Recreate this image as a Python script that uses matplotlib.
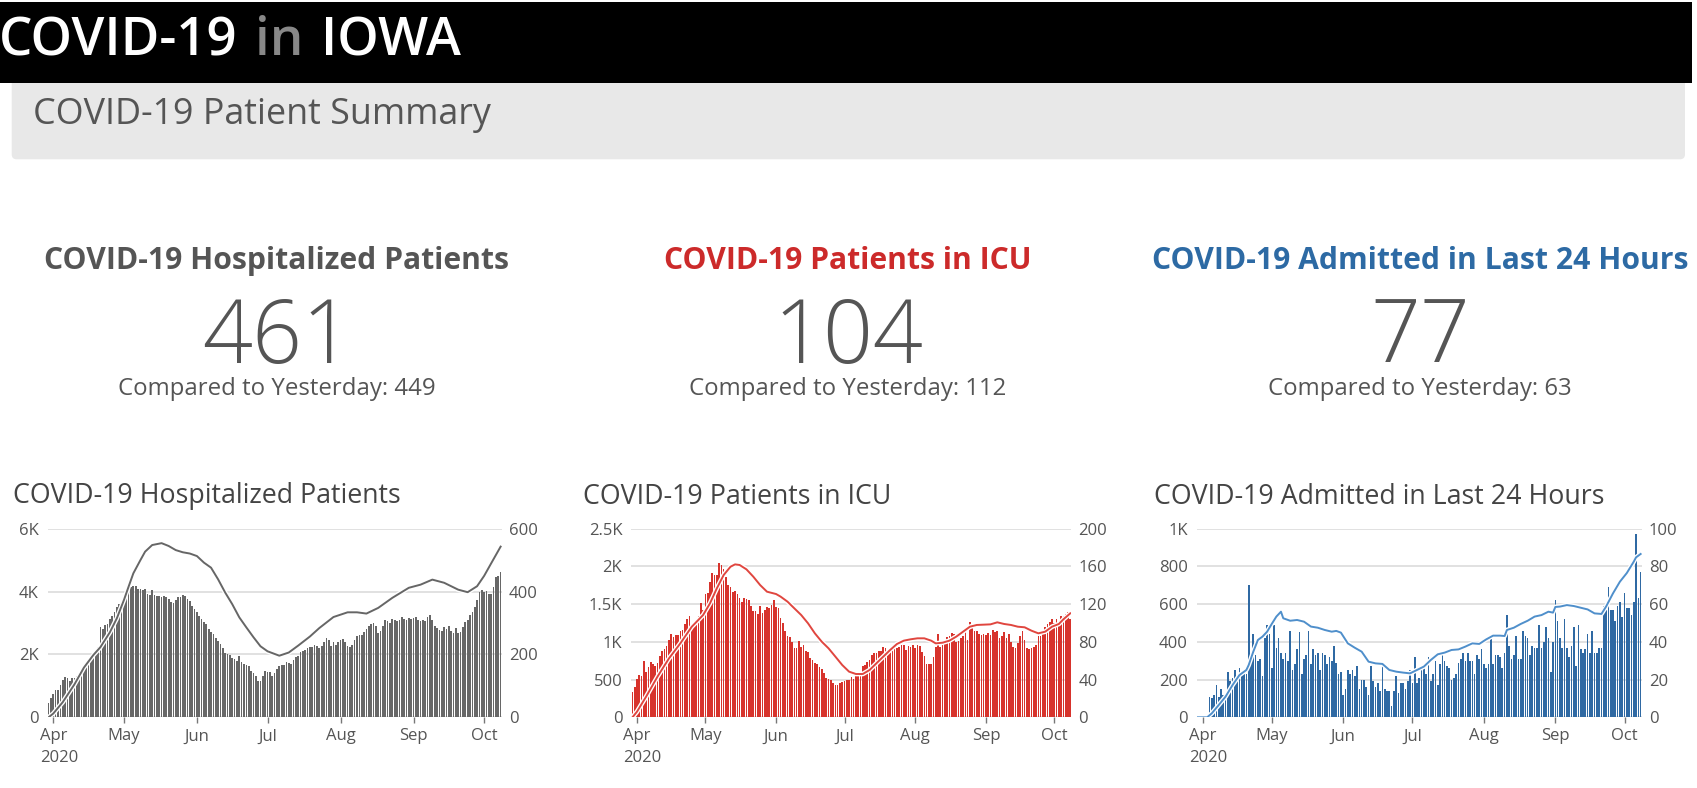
import matplotlib
matplotlib.use('Agg')
import matplotlib.pyplot as plt
import matplotlib.patheffects as pe
import matplotlib.transforms as mtransforms
from matplotlib.patches import Rectangle, FancyBboxPatch
import pandas as pd

W, H, DPI = 1697, 788, 100

# ---------------- data ----------------
day_start, day_end = '2020-03-30', '2020-10-08'

hosp_daily = [47, 62,
    74, 87, 87, 103, 119, 127, 124, 117, 124, 124, 131, 140, 150, 161, 172, 182, 193, 204, 214, 225,
    286, 280, 293, 296, 312, 323, 336, 350, 360, 371,
    385, 392, 398, 414, 419, 417, 408, 408, 405, 408, 392, 389, 406, 389, 387, 387, 382, 385, 382, 376,
    368, 364, 373, 382, 384, 389, 385, 376, 371, 353, 344,
    334, 323, 312, 302, 296, 280, 270, 264, 253, 243, 232, 221, 203, 200, 197, 189, 184, 179, 195, 175,
    168, 165, 163, 147, 140, 132, 117, 117, 132, 148,
    144, 143, 132, 140, 153, 164, 165, 167, 176, 174, 170, 183, 191, 196, 207, 210, 215, 220, 223, 223,
    230, 228, 220, 228, 238, 252, 245, 228, 239, 231, 240,
    245, 249, 238, 228, 223, 231, 247, 260, 263, 261, 270, 281, 289, 298, 300, 289, 268, 273, 291, 311,
    305, 300, 313, 311, 305, 309, 319, 313, 311, 316, 313,
    316, 319, 311, 305, 311, 305, 319, 327, 311, 289, 284, 277, 273, 287, 281, 289, 273, 268, 284, 268,
    270, 287, 302, 311, 327, 334, 350, 373, 400, 405,
    400, 403, 392, 392, 414, 445, 449, 461]

icu_daily = [27, 32,
    41, 45, 44, 60, 48, 53, 59, 57, 54, 58, 65, 70, 72, 76, 82, 88, 85, 87, 87, 91,
    93, 99, 104, 107, 98, 99, 102, 107, 121, 114,
    131, 132, 143, 153, 151, 151, 164, 161, 157, 149, 140, 138, 133, 134, 131, 126, 122, 126, 125, 124,
    118, 113, 113, 110, 118, 111, 114, 117, 116, 119, 124,
    117, 116, 105, 100, 91, 86, 85, 80, 73, 74, 81, 75, 77, 70, 69, 63, 61, 58, 57, 53,
    51, 47, 42, 41, 40, 36, 34, 34, 36, 37,
    39, 40, 40, 43, 41, 44, 45, 48, 54, 55, 59, 61, 66, 68, 68, 70, 70, 75, 74, 71,
    72, 76, 77, 73, 75, 77, 77, 71, 76, 75, 77,
    74, 77, 76, 69, 65, 57, 57, 57, 64, 75, 88, 75, 81, 78, 85, 86, 89, 88, 80, 81,
    84, 86, 93, 82, 101, 99, 91, 91, 88, 87, 88,
    87, 89, 87, 93, 90, 91, 84, 86, 90, 84, 88, 80, 75, 74, 79, 86, 91, 82, 73, 72,
    73, 75, 77, 86, 86, 90, 96, 99, 101, 104,
    100, 104, 101, 107, 107, 110, 112, 104]

admit_daily = [0, 0,
    0, 0, 0, 11, 10, 12, 17, 11, 15, 12, 11, 24, 19, 21, 25, 22, 26, 23, 23, 23,
    70, 32, 44, 33, 30, 31, 22, 42, 49, 44,
    26, 49, 37, 42, 34, 31, 34, 30, 46, 25, 28, 36, 45, 23, 31, 33, 46, 28, 36, 33,
    34, 25, 34, 33, 28, 32, 30, 38, 29, 23, 24,
    12, 15, 25, 23, 25, 22, 27, 15, 20, 20, 16, 12, 27, 19, 16, 18, 14, 28, 15, 14,
    14, 6, 14, 22, 13, 18, 18, 15, 19, 25,
    18, 32, 18, 21, 25, 27, 23, 32, 19, 23, 30, 17, 28, 33, 30, 27, 26, 20, 21, 23,
    29, 31, 34, 30, 34, 30, 30, 23, 33, 31, 36,
    28, 26, 28, 42, 28, 33, 33, 32, 26, 34, 54, 38, 31, 33, 43, 31, 31, 46, 43, 42,
    33, 38, 37, 37, 49, 37, 40, 48, 42, 24, 40,
    62, 51, 42, 37, 52, 37, 32, 38, 48, 27, 49, 36, 34, 36, 44, 34, 46, 34, 34, 37,
    37, 59, 57, 69, 57, 57, 51, 59, 61, 53,
    66, 58, 58, 54, 61, 97, 63, 77]

hosp_line_dates = ['03-30', '04-01', '04-05', '04-10', '04-14', '04-18', '04-21', '04-25', '04-28',
    '05-01', '05-03', '05-05', '05-08', '05-10', '05-13', '05-17', '05-20', '05-23', '05-26', '05-29',
    '06-01', '06-04', '06-07', '06-10', '06-13', '06-16', '06-19', '06-22', '06-25', '06-28',
    '07-01', '07-06', '07-10', '07-14', '07-19', '07-23', '07-29', '08-04', '08-08', '08-12',
    '08-17', '08-23', '08-30', '09-04', '09-09', '09-14', '09-20', '09-24', '09-28', '10-01',
    '10-04', '10-08']
hosp_line_vals = [0, 120, 480, 1050, 1580, 1980, 2230, 2700, 3150,
    3730, 4160, 4580, 5000, 5270, 5480, 5540, 5450, 5320, 5250, 5210,
    5130, 4920, 4760, 4390, 3970, 3600, 3180, 2860, 2550, 2260,
    2100, 1960, 2060, 2280, 2570, 2840, 3190, 3340, 3340, 3300,
    3480, 3800, 4120, 4220, 4380, 4280, 4060, 3980, 4170, 4500,
    4900, 5430]

icu_line_dates = ['03-30', '04-01', '04-05', '04-10', '04-15', '04-20', '04-25', '04-30',
    '05-03', '05-06', '05-09', '05-12', '05-14', '05-16', '05-19', '05-22', '05-25', '05-28',
    '06-01', '06-03', '06-06', '06-09', '06-12', '06-15', '06-18', '06-21', '06-24', '06-27', '06-30',
    '07-03', '07-06', '07-09', '07-12', '07-15', '07-18', '07-21', '07-24', '07-27', '07-30',
    '08-02', '08-05', '08-08', '08-10', '08-13', '08-16', '08-19', '08-22', '08-25', '08-28', '08-31',
    '09-03', '09-06', '09-09', '09-12', '09-15', '09-18', '09-21', '09-24', '09-27', '09-30',
    '10-03', '10-05', '10-08']
icu_line_vals = [0, 75, 274, 540, 780, 980, 1200, 1356,
    1510, 1709, 1886, 1996, 2027, 2019, 1961, 1864, 1753, 1665,
    1634, 1599, 1533, 1444, 1356, 1246, 1113, 1003, 914, 804, 693,
    605, 574, 574, 627, 716, 804, 892, 972, 1016, 1034,
    1047, 1047, 1016, 980, 989, 1016, 1069, 1135, 1201, 1224, 1228,
    1232, 1259, 1237, 1224, 1201, 1193, 1148, 1113, 1135, 1201,
    1237, 1299, 1378]

admit_line_dates = ['03-30', '04-03', '04-05', '04-08', '04-11', '04-14', '04-17', '04-20', '04-21',
    '04-23', '04-25', '04-27', '04-29', '05-01', '05-03', '05-05', '05-06', '05-09', '05-12',
    '05-15', '05-18', '05-21', '05-24', '05-27', '05-29', '05-31', '06-03', '06-06', '06-09',
    '06-12', '06-15', '06-18', '06-21', '06-24', '06-27', '06-30', '07-03', '07-06', '07-09',
    '07-12', '07-15', '07-18', '07-21', '07-24', '07-27', '07-30', '08-02', '08-05', '08-08',
    '08-10', '08-11', '08-14', '08-17', '08-20', '08-23', '08-26', '08-29', '08-31', '09-01',
    '09-03', '09-06', '09-09', '09-12', '09-15', '09-18', '09-21', '09-23', '09-26', '09-29',
    '10-02', '10-05', '10-06', '10-08']
admit_line_vals = [0, 0, 21, 65, 110, 171, 224, 251, 277,
    348, 410, 428, 454, 495, 534, 560, 525, 512, 516,
    507, 481, 475, 463, 454, 458, 449, 392, 369, 348,
    295, 286, 283, 251, 242, 237, 233, 251, 269, 304,
    334, 343, 357, 360, 375, 392, 389, 413, 433, 433,
    431, 463, 475, 495, 512, 534, 542, 560, 555, 585,
    587, 595, 590, 581, 572, 551, 548, 587, 657, 719,
    765, 825, 848, 866]

kpi_titles = ['COVID-19 Hospitalized Patients', 'COVID-19 Patients in ICU',
              'COVID-19 Admitted in Last 24 Hours']
kpi_values = [461, 104, 77]
kpi_yesterday = [449, 112, 63]

month_labels = ['Apr', 'May', 'Jun', 'Jul', 'Aug', 'Sep', 'Oct']
year_label = '2020'

hosp_left_ticks = [0, 2000, 4000, 6000]
hosp_left_labels = ['0', '2K', '4K', '6K']
hosp_right_ticks = [0, 200, 400, 600]
icu_left_ticks = [0, 500, 1000, 1500, 2000, 2500]
icu_left_labels = ['0', '500', '1K', '1.5K', '2K', '2.5K']
icu_right_ticks = [0, 40, 80, 120, 160, 200]
admit_left_ticks = [0, 200, 400, 600, 800, 1000]
admit_left_labels = ['0', '200', '400', '600', '800', '1K']
admit_right_ticks = [0, 20, 40, 60, 80, 100]

# ---------------- figure ----------------
FONT = 'Open Sans'
plt.rcParams['font.family'] = [FONT, 'DejaVu Sans']
fig = plt.figure(figsize=(W / DPI, H / DPI), dpi=DPI)
fig.patch.set_facecolor('white')


def fx(x):
    return x / W


def fy(y):
    return 1 - y / H


ident = mtransforms.IdentityTransform()
panel = FancyBboxPatch((11.7, H - 159.3), 1685 - 11.7, 159.3 - 70,
                       boxstyle='round,pad=0,rounding_size=5', transform=ident,
                       facecolor='#e8e8e8', edgecolor='none', zorder=1)
fig.add_artist(panel)
fig.add_artist(Rectangle((0, H - 83.2), 1692, 81.5, transform=ident,
                         facecolor='black', edgecolor='none', zorder=2))

hdr_kw = dict(fontsize=38, fontweight='semibold', va='baseline', ha='left', zorder=3)
fig.text(fx(-1), fy(55), 'COVID-19', color='white', **hdr_kw)
fig.text(fx(255), fy(55), 'in', color='#888888', **hdr_kw)
fig.text(fx(320.5), fy(55), 'IOWA', color='white', **hdr_kw)

fig.text(fx(33), fy(124), 'COVID-19 Patient Summary', fontsize=25.8, color='#555555',
         va='baseline', ha='left', zorder=3)

col_centers = [277, 848, 1420]
kpi_colors = ['#555555', '#cc2a2a', '#2d6aa4']
for cx, t, c, v, yv in zip(col_centers, kpi_titles, kpi_colors, kpi_values, kpi_yesterday):
    fig.text(fx(cx), fy(269), t, fontsize=21.7, fontweight='bold', color=c,
             ha='center', va='baseline')
    fig.text(fx(cx), fy(362.5), str(v), fontsize=63, fontweight='light', color='#555555',
             ha='center', va='baseline')
    fig.text(fx(cx), fy(395), f'Compared to Yesterday: {yv}', fontsize=17.3,
             color='#555555', ha='center', va='baseline')

dates = pd.date_range(day_start, day_end, freq='D')
month_ticks = pd.date_range('2020-04-01', '2020-10-01', freq='MS')
x_lo = pd.Timestamp(day_start) - pd.Timedelta(hours=11)
x_hi = pd.Timestamp(day_end) + pd.Timedelta(hours=12)

charts = [
    dict(x0=47.5, x1=501.8, title='COVID-19 Hospitalized Patients', tx=13,
         bars=hosp_daily, ld=hosp_line_dates, lv=hosp_line_vals,
         lt=hosp_left_ticks, ll=hosp_left_labels, rt=hosp_right_ticks,
         bc='#676767', lc='#666666'),
    dict(x0=631.4, x1=1071.4, title='COVID-19 Patients in ICU', tx=583,
         bars=icu_daily, ld=icu_line_dates, lv=icu_line_vals,
         lt=icu_left_ticks, ll=icu_left_labels, rt=icu_right_ticks,
         bc='#d7332c', lc='#e0463f'),
    dict(x0=1196.9, x1=1641.8, title='COVID-19 Admitted in Last 24 Hours', tx=1153.5,
         bars=admit_daily, ld=admit_line_dates, lv=admit_line_vals,
         lt=admit_left_ticks, ll=admit_left_labels, rt=admit_right_ticks,
         bc='#2f69a3', lc='#4f8fcb'),
]

Y_TOP, Y_BOT = 528.7, 717.3
TICK_FS = 12
for ch in charts:
    fig.text(fx(ch['tx']), fy(503.5), ch['title'], fontsize=19.3, color='#444444',
             ha='left', va='baseline')
    axb = fig.add_axes([fx(ch['x0']), fy(Y_BOT), (ch['x1'] - ch['x0']) / W, (Y_BOT - Y_TOP) / H])
    axb.set_facecolor('none')
    axb.bar(dates, ch['bars'], width=0.72, color=ch['bc'], linewidth=0, zorder=2)
    axb.set_ylim(ch['rt'][0], ch['rt'][-1])
    axb.set_yticks(ch['rt'])
    axb.set_yticklabels([str(t) for t in ch['rt']])
    axb.grid(axis='y', color='#d9d9d9', linewidth=1.1, zorder=0)
    axb.set_axisbelow(True)
    axb.set_xlim(x_lo, x_hi)
    axb.set_xticks(month_ticks)
    axb.set_xticklabels(month_labels)
    axb.tick_params(axis='x', length=4, width=1, color='#777777', pad=4,
                    labelsize=TICK_FS, labelcolor='#555555')
    for s in axb.spines.values():
        s.set_visible(False)

    axl = axb.twinx()
    axl.set_facecolor('none')
    ldates = pd.to_datetime(['2020-' + d for d in ch['ld']])
    axl.plot(ldates, ch['lv'], color=ch['lc'], linewidth=1.4, solid_joinstyle='round',
             path_effects=[pe.Stroke(linewidth=3.4, foreground='white'), pe.Normal()])
    axl.set_ylim(ch['lt'][0], ch['lt'][-1])
    axl.set_yticks(ch['lt'])
    axl.set_yticklabels(ch['ll'])
    axl.set_xlim(x_lo, x_hi)
    for s in axl.spines.values():
        s.set_visible(False)

    # bars' axis on the right, line's axis on the left
    axb.yaxis.tick_right()
    axl.yaxis.tick_left()
    axb.tick_params(axis='y', which='both', left=False, labelleft=False, right=False,
                    labelright=True, length=0, pad=5, labelsize=TICK_FS, labelcolor='#555555')
    axl.tick_params(axis='y', which='both', right=False, labelright=False, left=False,
                    labelleft=True, length=0, pad=6.5, labelsize=TICK_FS, labelcolor='#555555')

    trans = mtransforms.blended_transform_factory(axb.transData, axb.transAxes)
    trans = mtransforms.offset_copy(trans, fig=fig, x=-13.5, y=0, units='dots')
    axb.text(month_ticks[0], (Y_BOT - 762) / (Y_BOT - Y_TOP), year_label, transform=trans,
             fontsize=TICK_FS, color='#555555', ha='left', va='baseline')

fig.savefig('out.png', dpi=DPI, facecolor='white')
